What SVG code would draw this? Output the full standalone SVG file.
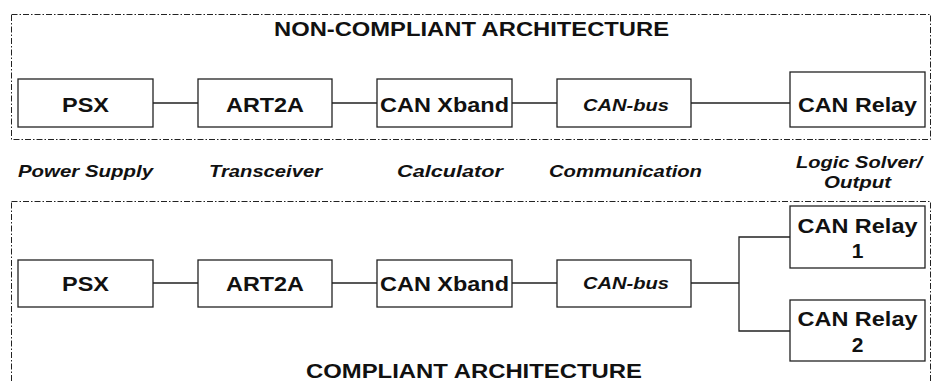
<svg xmlns="http://www.w3.org/2000/svg" width="932" height="381" viewBox="0 0 932 381">
  <style>
    .frame { fill: none; stroke: #222; stroke-width: 1; stroke-dasharray: 6 2 1.5 2; }
    .box { fill: #fff; stroke: #222; stroke-width: 1.3; }
    .wire { fill: none; stroke: #222; stroke-width: 1.3; }
    text { font-family: "Liberation Sans", Arial, sans-serif; font-weight: bold; fill: #111; text-anchor: middle; }
    .lbl { font-size: 21px; }
    .bus { font-style: italic; font-size: 17px; }
    .role { font-style: italic; font-size: 17px; }
    .title { font-size: 21px; }
  </style>

  <!-- architecture frames -->
  <rect class="frame" x="11.5" y="14.5" width="919" height="125"/>
  <rect class="frame" x="11.5" y="201.5" width="919" height="200"/>
  <text class="title" x="471.5" y="36" textLength="395" lengthAdjust="spacingAndGlyphs">NON-COMPLIANT ARCHITECTURE</text>
  <text class="title" x="474" y="378" textLength="336" lengthAdjust="spacingAndGlyphs">COMPLIANT ARCHITECTURE</text>

  <!-- function labels -->
  <g id="roles">
    <text class="role" x="85.5" y="177" textLength="135" lengthAdjust="spacingAndGlyphs">Power Supply</text>
    <text class="role" x="265.5" y="177" textLength="113" lengthAdjust="spacingAndGlyphs">Transceiver</text>
    <text class="role" x="450" y="177" textLength="106" lengthAdjust="spacingAndGlyphs">Calculator</text>
    <text class="role" x="625.5" y="177" textLength="153" lengthAdjust="spacingAndGlyphs">Communication</text>
    <text class="role" x="859" y="168" textLength="126" lengthAdjust="spacingAndGlyphs">Logic Solver/</text>
    <text class="role" x="857.5" y="188" textLength="67" lengthAdjust="spacingAndGlyphs">Output</text>
  </g>

  <!-- connectors -->
  <g id="connectors">
    <path class="wire" d="M153 103H198 M332 103H377 M512 103H557 M691 103H790"/>
    <path class="wire" d="M153 283H198 M332 283H377 M512 283H557 M691 283H739 M790 237H739V331H790"/>
  </g>

  <!-- non-compliant chain -->
  <g id="nc-psx"><rect class="box" x="18" y="79" width="135" height="48"/><text class="lbl" x="85.5" y="112" textLength="47" lengthAdjust="spacingAndGlyphs">PSX</text></g>
  <g id="nc-art2a"><rect class="box" x="198" y="79" width="134" height="48"/><text class="lbl" x="265" y="112" textLength="78" lengthAdjust="spacingAndGlyphs">ART2A</text></g>
  <g id="nc-xband"><rect class="box" x="377" y="79" width="135" height="48"/><text class="lbl" x="444.5" y="112" textLength="129" lengthAdjust="spacingAndGlyphs">CAN Xband</text></g>
  <g id="nc-bus"><rect class="box" x="557" y="79" width="134" height="48"/><text class="bus" x="626" y="111" textLength="86" lengthAdjust="spacingAndGlyphs">CAN-bus</text></g>
  <g id="nc-relay"><rect class="box" x="790" y="72" width="135" height="55"/><text class="lbl" x="857.5" y="112" textLength="119" lengthAdjust="spacingAndGlyphs">CAN Relay</text></g>

  <!-- compliant chain -->
  <g id="c-psx"><rect class="box" x="18" y="260" width="135" height="47"/><text class="lbl" x="85.5" y="291" textLength="47" lengthAdjust="spacingAndGlyphs">PSX</text></g>
  <g id="c-art2a"><rect class="box" x="198" y="260" width="134" height="47"/><text class="lbl" x="265" y="291" textLength="78" lengthAdjust="spacingAndGlyphs">ART2A</text></g>
  <g id="c-xband"><rect class="box" x="377" y="260" width="135" height="47"/><text class="lbl" x="444.5" y="291" textLength="129" lengthAdjust="spacingAndGlyphs">CAN Xband</text></g>
  <g id="c-bus"><rect class="box" x="557" y="260" width="134" height="47"/><text class="bus" x="626" y="289" textLength="86" lengthAdjust="spacingAndGlyphs">CAN-bus</text></g>
  <g id="c-relay1"><rect class="box" x="790" y="206" width="135" height="62"/><text class="lbl" x="857.5" y="233" textLength="120" lengthAdjust="spacingAndGlyphs">CAN Relay</text><text class="lbl" x="857.5" y="258">1</text></g>
  <g id="c-relay2"><rect class="box" x="790" y="300" width="135" height="61"/><text class="lbl" x="857.5" y="326" textLength="120" lengthAdjust="spacingAndGlyphs">CAN Relay</text><text class="lbl" x="857.5" y="352">2</text></g>
</svg>
